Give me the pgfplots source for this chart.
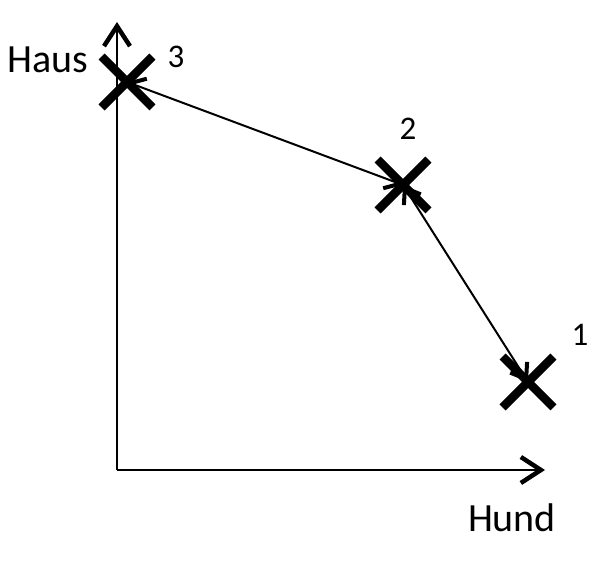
\documentclass[border=0pt]{standalone}
\usepackage{pgfplots}
\pgfplotsset{compat=1.18}
\usepackage{fontspec}
\setmainfont{Carlito}
\usetikzlibrary{arrows.meta}
\begin{document}
\begin{tikzpicture}
\begin{axis}[axis line style={draw=none}, xtick=\empty, ytick=\empty,
  scale only axis, width=608pt, height=564pt,
  xmin=-117, xmax=491, ymin=-94, ymax=470, clip=false, enlargelimits=false]
% axes
\addplot[line width=2.5pt, -{Straight Barb[length=20pt,width=26pt,line width=4.5pt]}] coordinates {(0,0) (0,448)};
\addplot[line width=2.5pt, -{Straight Barb[length=20pt,width=26pt,line width=4.5pt]}] coordinates {(0,0) (428,0)};
% connecting arrows
\addplot[line width=2pt, {Straight Barb[length=14pt,width=20pt,line width=4pt]}-{Straight Barb[length=14pt,width=20pt,line width=4pt]}] coordinates {(10,388) (286,285)};
\addplot[line width=2pt, {Straight Barb[length=14pt,width=20pt,line width=4pt]}-{Straight Barb[length=14pt,width=20pt,line width=4pt]}] coordinates {(286,285) (411,88)};
% markers
\addplot[only marks, mark=x, mark size=36pt, mark options={line width=8.5pt}] coordinates {(10,388) (286,285) (411,88)};
% labels
\node[anchor=base, font=\fontsize{40}{48}\selectfont] at (axis cs:-69,397) {Haus};
\node[anchor=base, font=\fontsize{40}{48}\selectfont] at (axis cs:395,-62) {Hund};
\node[anchor=base, font=\fontsize{33}{40}\selectfont] at (axis cs:59,402) {3};
\node[anchor=base, font=\fontsize{33}{40}\selectfont] at (axis cs:291,330) {2};
\node[anchor=base, font=\fontsize{33}{40}\selectfont] at (axis cs:463,124) {1};
\end{axis}
\end{tikzpicture}
\end{document}
